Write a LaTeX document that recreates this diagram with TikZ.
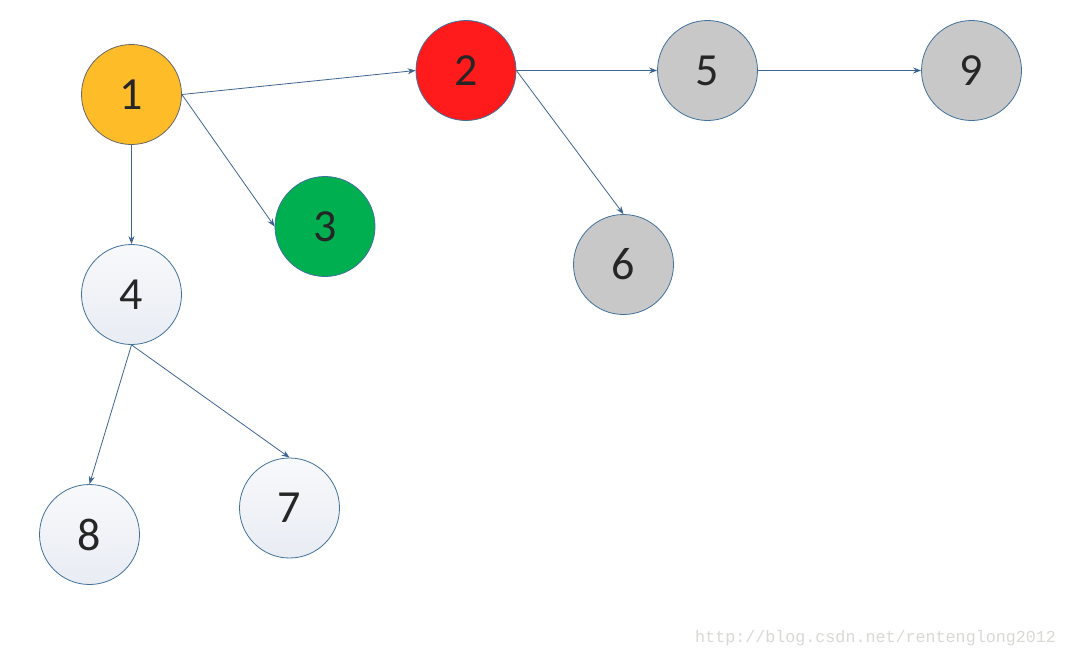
\documentclass[tikz,border=0pt]{standalone}
\usepackage{fontspec}
\setmainfont{Carlito}
\newfontfamily\wmfont{Liberation Mono}
\usetikzlibrary{arrows.meta}
\definecolor{stroke}{HTML}{41719C}
\definecolor{edgec}{HTML}{3E6592}
\definecolor{cyellow}{HTML}{FFBC29}
\definecolor{cred}{HTML}{FF1A1C}
\definecolor{cgreen}{HTML}{00AF50}
\definecolor{cgrey}{HTML}{C8C8C8}
\definecolor{lighttop}{HTML}{F8F9FB}
\definecolor{lightbot}{HTML}{E8ECF3}
\definecolor{txt}{HTML}{262626}
\definecolor{wm}{HTML}{D9D9D6}
\tikzset{
  vtx/.style={circle, minimum size=100pt, inner sep=0pt, draw=stroke, line width=0.8pt,
    font=\fontsize{46}{46}\selectfont, text=txt},
  light/.style={vtx, top color=lighttop, bottom color=lightbot},
  edge/.style={draw=edgec, line width=0.8pt, -{Stealth[length=8pt,width=6pt]}}
}
\begin{document}
\begin{tikzpicture}[x=1pt,y=-1pt]
\useasboundingbox[fill=white] (0,0) rectangle (1067,659);
\node[vtx, fill=cyellow, draw=gray!80!black] (n1) at (131.5,94.5) {1};
\node[vtx, fill=cred] (n2) at (466,70.5) {2};
\node[vtx, fill=cgreen] (n3) at (325,226.5) {3};
\node[light] (n4) at (131.5,294.5) {4};
\node[vtx, fill=cgrey] (n5) at (707.5,70.5) {5};
\node[vtx, fill=cgrey] (n6) at (623.5,264.5) {6};
\node[light] (n7) at (289.5,508) {7};
\node[light] (n8) at (89.5,534.5) {8};
\node[vtx, fill=cgrey] (n9) at (971.5,70.5) {9};
\draw[edge] (n1.east) -- (n2.west);
\draw[edge] (n1.east) -- (n3.west);
\draw[edge] (n1.south) -- (n4.north);
\draw[edge] (n2.east) -- (n5.west);
\draw[edge] (n2.east) -- (n6.north);
\draw[edge] (n5.east) -- (n9.west);
\draw[edge] (n4.south) -- (n8.north);
\draw[edge] (n4.south) -- (n7.north);
\node[anchor=west, inner sep=0pt, text=wm, font=\wmfont\fontsize{16.7}{16.7}\selectfont] (wmk) at (695,638) {http://blog.csdn.net/rentenglong2012};
\end{tikzpicture}
\end{document}
